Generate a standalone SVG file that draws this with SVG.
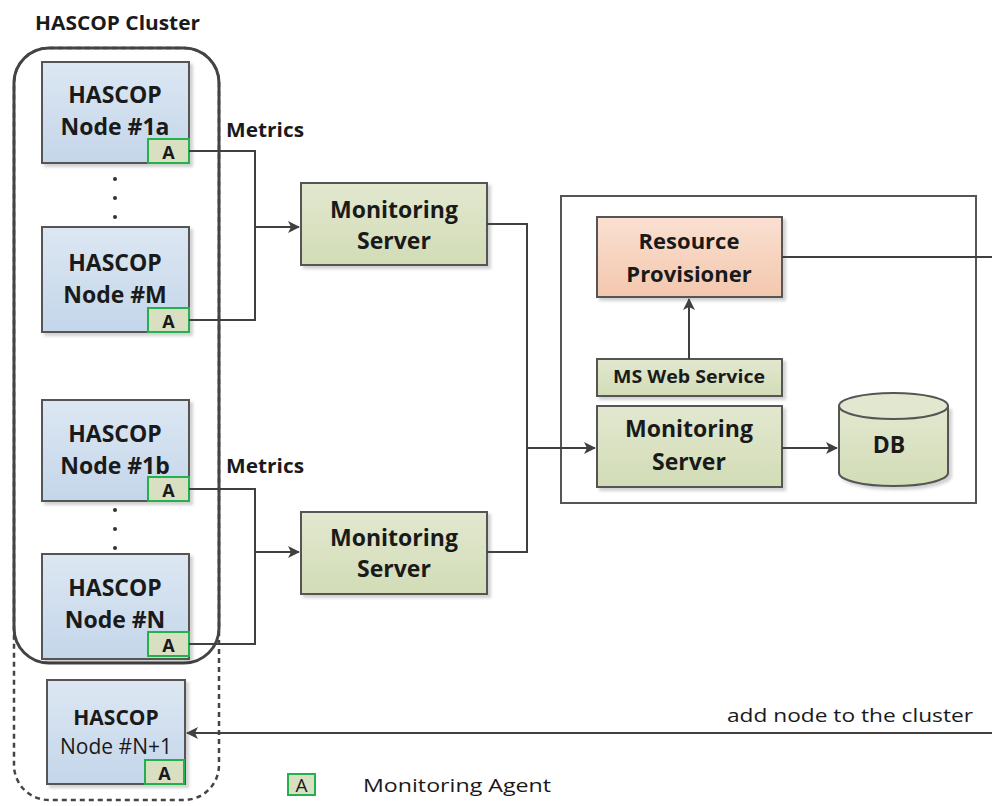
<svg xmlns="http://www.w3.org/2000/svg" width="992" height="806" viewBox="0 0 992 806">
<defs>
<linearGradient id="gBlue" x1="0" y1="0" x2="0" y2="1"><stop offset="0" stop-color="#dce7f2"/><stop offset="1" stop-color="#c4d6ea"/></linearGradient>
<linearGradient id="gGreen" x1="0" y1="0" x2="0" y2="1"><stop offset="0" stop-color="#e2e8d0"/><stop offset="1" stop-color="#d2dcb6"/></linearGradient>
<linearGradient id="gPeach" x1="0" y1="0" x2="0" y2="1"><stop offset="0" stop-color="#fae0d2"/><stop offset="1" stop-color="#f3c7ad"/></linearGradient>
<filter id="sh" x="-10%" y="-10%" width="130%" height="130%"><feDropShadow dx="3" dy="3" stdDeviation="1.5" flood-color="#000" flood-opacity="0.18"/></filter>
<marker id="arr" markerWidth="12" markerHeight="12" refX="11" refY="6" orient="auto" markerUnits="userSpaceOnUse"><path d="M0,0 L12,6 L0,12 L3,6 z" fill="#404040"/></marker>
<style>
.node{fill:url(#gBlue);stroke:#555;stroke-width:2;filter:url(#sh)}
.ms{fill:url(#gGreen);stroke:#555;stroke-width:2;filter:url(#sh)}
.rp{fill:url(#gPeach);stroke:#555;stroke-width:2;filter:url(#sh)}
.ag{fill:#d9e0c2;stroke:#22b14c;stroke-width:2}
.t{font-family:"Open Sans","Liberation Sans",sans-serif;font-weight:bold;fill:#1a1a1a;text-anchor:middle}
.r{font-family:"Open Sans","Liberation Sans",sans-serif;fill:#1a1a1a}
.ln{fill:none;stroke:#404040;stroke-width:2}
.dot{fill:#333}
</style>
</defs>
<rect width="992" height="806" fill="#fff"/>
<text x="35" y="30" class="r" font-weight="bold" font-size="20" textLength="165" lengthAdjust="spacingAndGlyphs">HASCOP Cluster</text>

<g id="cluster">
<rect x="14" y="48" width="205" height="752" rx="35" fill="none" stroke="#444" stroke-width="2.5" stroke-dasharray="5,4"/>
<rect x="14" y="48" width="205" height="615" rx="35" fill="none" stroke="#444" stroke-width="3"/>
</g>

<g id="node1a">
<rect class="node" x="42" y="62" width="147" height="101"/>
<text class="t" x="115" y="103" font-size="23">HASCOP</text>
<text class="t" x="115" y="135" font-size="23">Node #1a</text>
<rect class="ag" x="148" y="139" width="41" height="24"/>
<text class="t" x="168.5" y="158.5" font-size="18">A</text>
</g>
<g id="dots1"><circle class="dot" cx="115" cy="179" r="2"/><circle class="dot" cx="115" cy="198" r="2"/><circle class="dot" cx="115" cy="217" r="2"/></g>
<g id="nodeM">
<rect class="node" x="42" y="227" width="147" height="105"/>
<text class="t" x="115" y="271" font-size="23">HASCOP</text>
<text class="t" x="115" y="303" font-size="23">Node #M</text>
<rect class="ag" x="148" y="308" width="41" height="24"/>
<text class="t" x="168.5" y="327.5" font-size="18">A</text>
</g>
<g id="node1b">
<rect class="node" x="42" y="400" width="147" height="101"/>
<text class="t" x="115" y="442" font-size="23">HASCOP</text>
<text class="t" x="115" y="474" font-size="23">Node #1b</text>
<rect class="ag" x="148" y="477" width="41" height="24"/>
<text class="t" x="168.5" y="496.5" font-size="18">A</text>
</g>
<g id="dots2"><circle class="dot" cx="115" cy="510" r="2"/><circle class="dot" cx="115" cy="529" r="2"/><circle class="dot" cx="115" cy="548" r="2"/></g>
<g id="nodeN">
<rect class="node" x="42" y="554" width="147" height="105"/>
<text class="t" x="115" y="596" font-size="23">HASCOP</text>
<text class="t" x="115" y="628" font-size="23">Node #N</text>
<rect class="ag" x="148" y="632" width="41" height="24"/>
<text class="t" x="168.5" y="651.5" font-size="18">A</text>
</g>
<g id="nodeN1">
<rect class="node" x="47" y="680" width="138" height="104"/>
<text class="t" x="116" y="725" font-size="21">HASCOP</text>
<text class="r" x="116" y="754" font-size="21" text-anchor="middle">Node #N+1</text>
<rect class="ag" x="145" y="760" width="39" height="24"/>
<text class="t" x="164.5" y="779.5" font-size="18">A</text>
</g>

<g id="ms1">
<rect class="ms" x="301" y="183" width="186" height="82"/>
<text class="t" x="394" y="218" font-size="23">Monitoring</text>
<text class="t" x="394" y="249" font-size="23">Server</text>
</g>
<g id="ms2">
<rect class="ms" x="301" y="512" width="186" height="82"/>
<text class="t" x="394" y="546" font-size="23">Monitoring</text>
<text class="t" x="394" y="577" font-size="23">Server</text>
</g>

<g id="container"><rect x="561" y="196" width="415" height="307" fill="none" stroke="#555" stroke-width="2"/></g>
<g id="rp">
<rect class="rp" x="597" y="217" width="185" height="80"/>
<text class="t" x="689" y="249" font-size="22">Resource</text>
<text class="t" x="689" y="282" font-size="22">Provisioner</text>
</g>
<g id="msws">
<rect class="ms" x="597" y="359" width="185" height="37"/>
<text class="t" x="689" y="383" font-size="17" textLength="152" lengthAdjust="spacingAndGlyphs">MS Web Service</text>
</g>
<g id="ms3">
<rect class="ms" x="597" y="406" width="185" height="81"/>
<text class="t" x="689" y="437" font-size="23">Monitoring</text>
<text class="t" x="689" y="470" font-size="23">Server</text>
</g>
<g id="db">
<path d="M839,406 L839,473 A54.5,13 0 0 0 948,473 L948,406" fill="url(#gGreen)" stroke="#555" stroke-width="2" filter="url(#sh)"/>
<ellipse cx="893.5" cy="406" rx="54.5" ry="13" fill="#e2e8d0" stroke="#555" stroke-width="2"/>
<text class="t" x="889" y="453" font-size="23">DB</text>
</g>

<g id="connectors">
<path class="ln" d="M189,151 H255 V320 H189"/>
<path class="ln" d="M255,227 H299" marker-end="url(#arr)"/>
<path class="ln" d="M189,489 H255 V644 H189"/>
<path class="ln" d="M255,552 H299" marker-end="url(#arr)"/>
<path class="ln" d="M487,224 H527 V552 H487"/>
<path class="ln" d="M527,448 H595" marker-end="url(#arr)"/>
<path class="ln" d="M782,448 H837" marker-end="url(#arr)"/>
<path class="ln" d="M689,359 V299" marker-end="url(#arr)"/>
<path class="ln" d="M782,257 H992"/>
<path class="ln" d="M992,733 H187" marker-end="url(#arr)"/>
</g>
<text class="r" x="226" y="137" font-size="20" font-weight="bold" textLength="78" lengthAdjust="spacingAndGlyphs">Metrics</text>
<text class="r" x="226" y="473" font-size="20" font-weight="bold" textLength="78" lengthAdjust="spacingAndGlyphs">Metrics</text>
<text class="r" x="727" y="722" font-size="19" textLength="246" lengthAdjust="spacingAndGlyphs">add node to the cluster</text>

<g id="legend">
<rect class="ag" x="288" y="774" width="27" height="21"/>
<text class="r" x="301.5" y="792" font-size="19" text-anchor="middle">A</text>
<text class="r" x="363" y="792" font-size="19" textLength="188" lengthAdjust="spacingAndGlyphs">Monitoring Agent</text>
</g>
</svg>
